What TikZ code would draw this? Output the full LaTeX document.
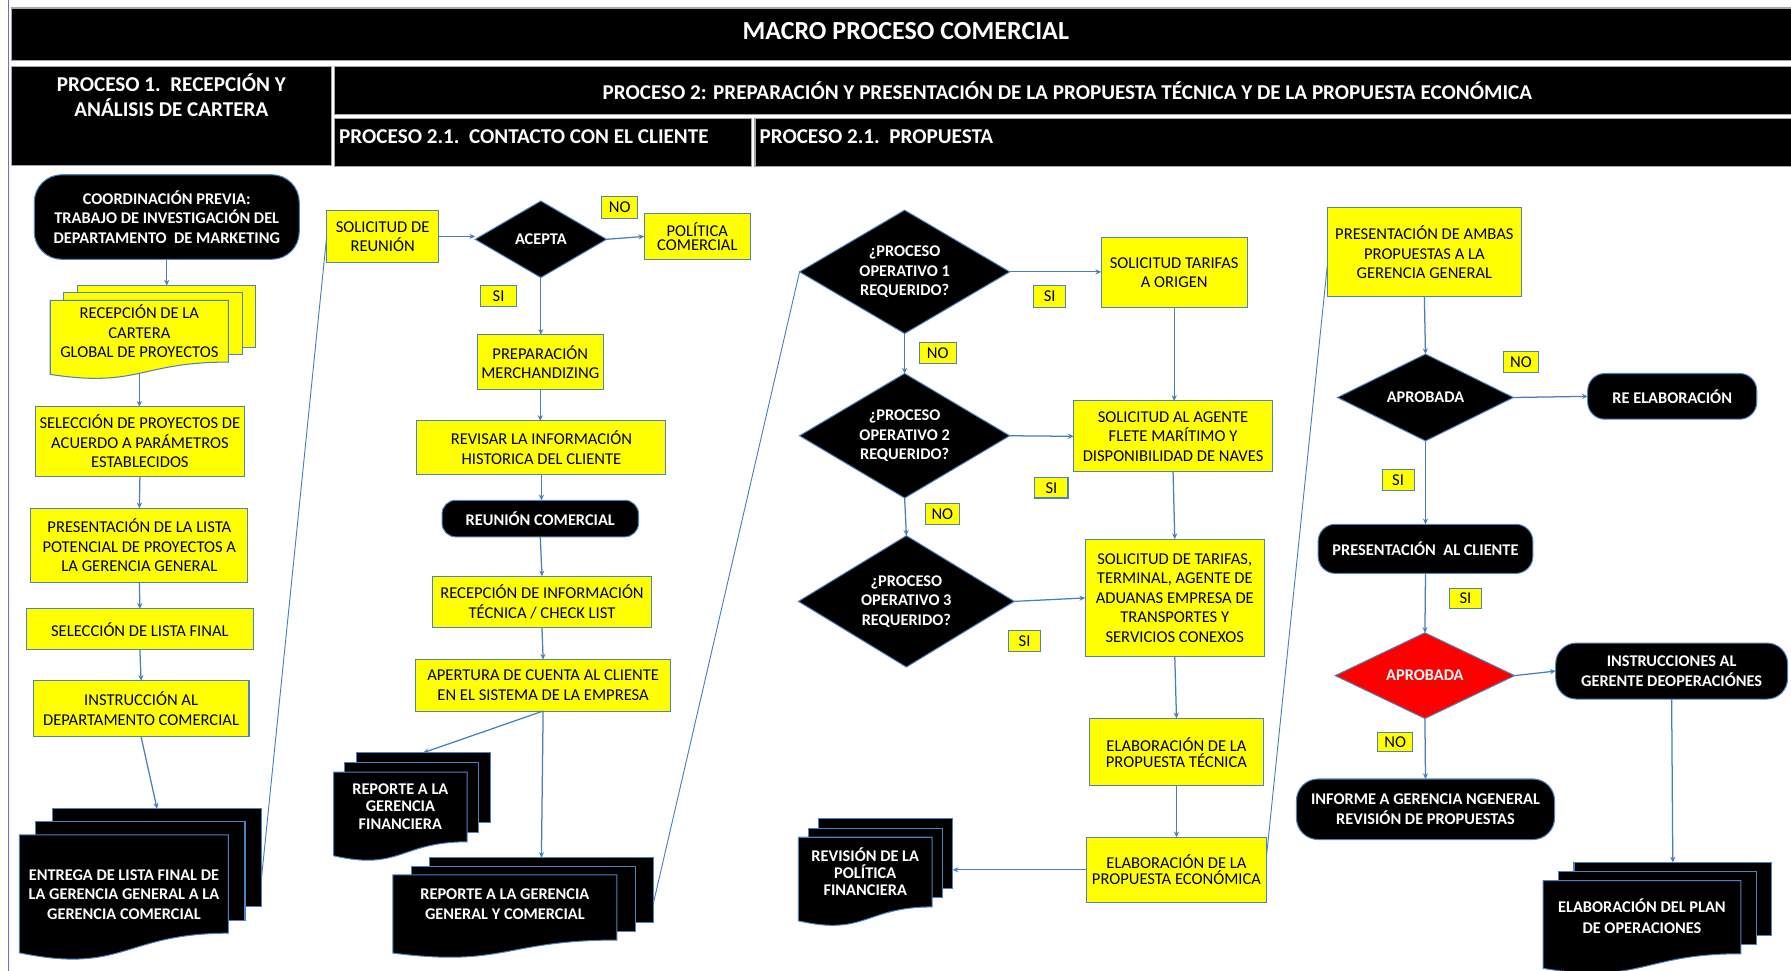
\documentclass[tikz,border=0pt]{standalone}
\usepackage{fontspec}
\setmainfont{Carlito}
\usetikzlibrary{shapes.geometric,arrows.meta,calc}

\definecolor{bordblue}{HTML}{4F81BD}
\definecolor{lineblue}{HTML}{4A7EBB}
\definecolor{ylw}{HTML}{FFFF00}
\definecolor{hdrgray}{HTML}{A6A6A6}
\definecolor{pageblue}{HTML}{6A6AEE}
\definecolor{alarm}{HTML}{FF0000}

% text sizes
\newcommand{\fs}{\fontsize{14.5}{17}\selectfont}
\newcommand{\fst}{\fontsize{14.5}{14}\selectfont}
\newcommand{\fstt}{\fontsize{14.5}{12}\selectfont}
\newcommand{\fsb}{\bfseries\fontsize{14.3}{17}\selectfont}
\newcommand{\fsbd}{\bfseries\fontsize{14.3}{15.5}\selectfont}
\newcommand{\fshd}{\bfseries\fontsize{18.5}{22}\selectfont}
\newcommand{\fstitle}{\bfseries\fontsize{22.8}{26}\selectfont}

% stacked documents: name, x, y (front top-left), width, height, dx, dy, style
\newcommand{\multidoc}[8]{%
  \path[#8] ({#2+2*#6},{#3-2*#7}) rectangle ({#2+2*#6+#4},{#3-2*#7+#5});
  \path[#8] ({#2+#6},{#3-#7}) rectangle ({#2+#6+#4},{#3-#7+#5});
  \path[#8] (#2,#3) -- ({#2+#4},#3) -- ({#2+#4},{#3+#5})
     .. controls ({#2+0.5*#4},{#3+#5}) and ({#2+0.5*#4},{#3+1.42*#5}) .. ({#2},{#3+1.2*#5}) -- cycle;
  \coordinate (#1-in) at ({#2+2*#6+0.5*#4},{#3-2*#7});
  \coordinate (#1-out) at ({#2+0.5*#4},{#3+1.18*#5});
  \coordinate (#1-e) at ({#2+2*#6+#4},{#3-2*#7+0.7*#5});
}

\tikzset{
  every node/.style={inner sep=0pt, outer sep=0pt},
  hdr/.style={draw=hdrgray, fill=black, text=white, line width=1.2pt, font=\fshd, align=center},
  hdrtext/.style={text=white, font=\fshd, align=center},
  ybox/.style={draw=bordblue, fill=ylw, line width=0.9pt, align=center, font=\fs},
  bbox/.style={draw=bordblue, fill=black, text=white, line width=0.9pt, align=center, font=\fsb, rounded corners=#1},
  bbox/.default=15pt,
  dia/.style={diamond, draw=bordblue, fill=black, text=white, line width=0.9pt, align=center, font=\fsb},
  lbl/.style={draw=bordblue, fill=ylw, line width=0.9pt, font=\fs},
  ydoc/.style={draw=bordblue, fill=ylw, line width=0.9pt},
  bdoc/.style={draw=bordblue, fill=black, line width=0.9pt},
  ydoctext/.style={align=center, font=\fs},
  bdoctext/.style={align=center, text=white, font=\fsbd},
  conn/.style={draw=lineblue, line width=1.1pt, -{Stealth[length=5pt,width=4.5pt]}},
  link/.style={draw=lineblue, line width=0.8pt},
}

\begin{document}
\begin{tikzpicture}[x=1pt,y=-1pt]
\useasboundingbox (0,0) rectangle (1568,850);
\fill[white] (0,0) rectangle (1568,850);
\draw[pageblue, line width=0.8pt] (7,0) -- (7,850);

% ---------------- headers ----------------
\node[hdr, minimum width=1566pt, minimum height=46pt] (title) at (793,30) {};
\node[hdrtext, font=\fstitle] (titlet) at (793,27) {MACRO PROCESO COMERCIAL};
\node[hdr, minimum width=280pt, minimum height=87pt] (p1) at (150,101.5) {};
\node[hdrtext] (p1t) at (150,83) {PROCESO 1.\ \ RECEPCIÓN Y\\ ANÁLISIS DE CARTERA};
\node[hdr, minimum width=1283pt, minimum height=42pt] (p2) at (934.5,79) {PROCESO 2: PREPARACIÓN Y PRESENTACIÓN DE LA PROPUESTA TÉCNICA Y DE LA PROPUESTA ECONÓMICA};
\node[hdr, minimum width=365pt, minimum height=42pt] (p21a) at (475.5,125) {};
\node[hdrtext, anchor=west] (p21at) at (297,120) {PROCESO 2.1.\ \ CONTACTO CON EL CLIENTE};
\node[hdr, minimum width=915pt, minimum height=42pt] (p21b) at (1118.5,125) {};
\node[hdrtext, anchor=west] (p21bt) at (665,120) {PROCESO 2.1.\ \ PROPUESTA};

% ---------------- process 1 ----------------
\node[bbox=24pt, minimum width=232pt, minimum height=74pt] (coord) at (146,190)
  {COORDINACIÓN PREVIA:\\ TRABAJO DE INVESTIGACIÓN DEL\\ DEPARTAMENTO\ \ DE MARKETING};
\multidoc{cartera}{44}{263}{156}{54}{12}{6.5}{ydoc}
\node[ydoctext] (cartera) at (122,290) {RECEPCIÓN DE LA\\ CARTERA\\ GLOBAL DE PROYECTOS};
\node[ybox, minimum width=183pt, minimum height=61pt] (sel) at (122.5,386.5)
  {SELECCIÓN DE PROYECTOS DE\\ ACUERDO A PARÁMETROS\\ ESTABLECIDOS};
\node[ybox, minimum width=190pt, minimum height=65pt] (pres) at (122,477.5)
  {PRESENTACIÓN\ DE LA LISTA\\ POTENCIAL DE PROYECTOS A\\ LA GERENCIA GENERAL};
\node[ybox, minimum width=199pt, minimum height=36pt] (fin) at (122.5,551) {SELECCIÓN DE LISTA FINAL};
\node[ybox, minimum width=189pt, minimum height=49pt] (inst) at (123.5,620.5)
  {INSTRUCCIÓN AL\\ DEPARTAMENTO\ COMERCIAL};
\multidoc{entrega}{17}{731}{183}{86}{14.5}{11.5}{bdoc}
\node[bdoctext, font=\fsb] (entrega) at (108.5,783)
  {ENTREGA DE LISTA FINAL DE\\ LA GERENCIA GENERAL A LA\\ GERENCIA COMERCIAL};

\draw[conn] (coord.south) -- (cartera-in);
\draw[conn] (cartera-out) -- (cartera-out |- sel.north);
\draw[conn] (sel.south) -- (pres.north);
\draw[conn] (pres.south) -- (fin.north);
\draw[conn] (fin.south) -- (inst.north);
\draw[conn] (inst.south) -- (entrega-in);

% ---------------- process 2.1: client contact ----------------
\node[ybox, minimum width=98pt, minimum height=46pt] (sol) at (335,207) {SOLICITUD DE\\ REUNIÓN};
\node[dia, aspect=1.72, minimum width=115pt, minimum height=67pt] (acepta) at (473.5,209.5) {ACEPTA};
\node[lbl, minimum width=31pt, minimum height=19pt] (no1) at (542.5,181.5) {NO};
\node[ybox, font=\fstt, minimum width=93pt, minimum height=41pt] (pol) at (610.5,207) {POLÍTICA\\ COMERCIAL};
\node[lbl, minimum width=31pt, minimum height=18pt] (si1) at (436.5,259) {SI};
\node[ybox, minimum width=110pt, minimum height=48pt] (prep) at (473,317) {PREPARACIÓN\\ MERCHANDIZING};
\node[ybox, minimum width=218pt, minimum height=47pt] (rev) at (474,392)
  {REVISAR\ LA INFORMACIÓN\\ HISTORICA\ DEL CLIENTE};
\node[bbox=12pt, minimum width=172pt, minimum height=32pt] (reu) at (473,454) {REUNIÓN COMERCIAL};
\node[ybox, minimum width=191pt, minimum height=45pt] (rec) at (474.5,527)
  {RECEPCIÓN DE INFORMACIÓN\\ TÉCNICA / CHECK LIST};
\node[ybox, minimum width=223pt, minimum height=45pt] (ape) at (475.5,600)
  {APERTURA DE CUENTA AL CLIENTE\\ EN EL SISTEMA DE LA EMPRESA};
\multidoc{repfin}{292}{676}{117}{61}{10}{8.5}{bdoc}
\node[bdoctext] (repfin) at (350.5,706) {REPORTE A LA\\ GERENCIA\\ FINANCIERA};
\multidoc{repgen}{344}{766}{196}{57}{16}{7.5}{bdoc}
\node[bdoctext, font=\fsb] (repgen) at (442,791.5) {REPORTE A LA GERENCIA\\ GENERAL Y COMERCIAL};

\draw[link] (entrega-e) -- (sol.west);
\draw[conn] (sol.east) -- (sol.east -| acepta.west);
\draw[conn] (acepta.east) -- (pol.west);
\draw[conn] (acepta.south) -- (acepta.south |- prep.north);
\draw[conn] (prep.south) -- (prep.south |- rev.north);
\draw[conn] (rev.south) -- (rev.south |- reu.north);
\draw[conn] (reu.south) -- (rec.north);
\draw[conn] (rec.south) -- (ape.north);
\draw[conn] (ape.south) -- (repfin-in);
\draw[conn] (ape.south) -- (repgen-in);

% ---------------- process 2.1: proposal ----------------
\node[dia, aspect=1.7, minimum width=184pt, minimum height=108pt] (d1) at (792,238)
  {¿PROCESO\\ OPERATIVO 1\\ REQUERIDO?};
\node[dia, aspect=1.69, minimum width=184pt, minimum height=109pt] (d2) at (792,381.5)
  {¿PROCESO\\ OPERATIVO 2\\ REQUERIDO?};
\node[dia, aspect=1.64, minimum width=189pt, minimum height=115pt] (d3) at (793.5,526.5)
  {¿PROCESO\\ OPERATIVO 3\\ REQUERIDO?};
\node[ybox, minimum width=128pt, minimum height=61pt] (tor) at (1028,238.5) {SOLICITUD TARIFAS\\ A ORIGEN};
\node[ybox, minimum width=174pt, minimum height=62pt] (age) at (1027,382)
  {SOLICITUD AL AGENTE\\ FLETE MARÍTIMO Y\\ DISPONIBILIDAD DE NAVES};
\node[ybox, minimum width=157pt, minimum height=103pt] (ter) at (1028.5,523.5)
  {SOLICITUD DE TARIFAS,\\ TERMINAL, AGENTE DE\\ ADUANAS EMPRESA DE\\ TRANSPORTES Y\\ SERVICIOS CONEXOS};
\node[ybox, font=\fst, minimum width=152pt, minimum height=59pt] (tec) at (1030,658.5)
  {ELABORACIÓN DE LA\\ PROPUESTA TÉCNICA};
\node[ybox, font=\fst, minimum width=158pt, minimum height=57pt] (eco) at (1030,761.5)
  {ELABORACIÓN DE LA\\ PROPUESTA ECONÓMICA};
\node[lbl, minimum width=28pt, minimum height=19pt] (si2) at (919,259.5) {SI};
\node[lbl, minimum width=32pt, minimum height=18pt] (no2) at (821,309) {NO};
\node[lbl, minimum width=29pt, minimum height=18pt] (si3) at (920.5,427) {SI};
\node[lbl, minimum width=30pt, minimum height=18pt] (no3) at (825,450) {NO};
\node[lbl, minimum width=28pt, minimum height=18pt] (si4) at (897,561) {SI};
\multidoc{revpol}{699}{733}{117}{61}{9}{8}{bdoc}
\node[bdoctext, font=\bfseries\fontsize{14.3}{15}\selectfont] (revpol) at (757.5,763)
  {REVISIÓN DE LA\\ POLÍTICA\\ FINANCIERA};

\draw[link] (repgen-e) -- (d1.west);
\draw[conn] (d1.east) -- (d1.east -| tor.west);
\draw[conn] (d1.south) -- (d2.north);
\draw[conn] (d2.east) -- (age.west);
\draw[conn] (d2.south) -- (d3.north);
\draw[conn] (d3.east) -- (ter.west);
\draw[conn] (tor.south) -- (tor.south |- age.north);
\draw[conn] (age.south) -- (ter.north);
\draw[conn] (ter.south) -- (tec.north);
\draw[conn] (tec.south) -- (eco.north);
\draw[conn] (eco.west) -- (eco.west -| revpol-e);

% ---------------- presentation and approval ----------------
\node[ybox, minimum width=170pt, minimum height=78pt] (amb) at (1247,221)
  {PRESENTACIÓN\ DE AMBAS\\ PROPUESTAS A LA\\ GERENCIA GENERAL};
\node[dia, aspect=2.03, minimum width=154pt, minimum height=76pt] (apr) at (1248,348) {APROBADA};
\node[lbl, minimum width=31pt, minimum height=18pt] (no4) at (1331.5,317) {NO};
\node[bbox=15pt, minimum width=148pt, minimum height=40pt] (reel) at (1464,347) {RE ELABORACIÓN};
\node[lbl, minimum width=28pt, minimum height=18pt] (si5) at (1224,420) {SI};
\node[bbox=15pt, minimum width=188pt, minimum height=43pt] (cli) at (1248,480.5) {PRESENTACIÓN\ \ AL CLIENTE};
\node[lbl, minimum width=28pt, minimum height=18pt] (si6) at (1283,524) {SI};
\node[dia, fill=alarm, aspect=2.09, minimum width=157pt, minimum height=75pt] (red) at (1247.5,591.5) {APROBADA};
\node[bbox=18pt, minimum width=203pt, minimum height=49pt] (ins) at (1463.5,587.5)
  {INSTRUCCIONES AL\\ GERENTE\ DEOPERACIÓNES};
\node[lbl, minimum width=31pt, minimum height=17pt] (no5) at (1221.5,649.5) {NO};
\node[bbox=19pt, minimum width=226pt, minimum height=53pt] (infm) at (1248,708.5)
  {INFORME A GERENCIA NGENERAL\\ REVISIÓN DE PROPUESTAS};
\multidoc{plan}{1351}{771}{173}{64}{13.5}{8}{bdoc}
\node[bdoctext, font=\bfseries\fontsize{14.3}{18}\selectfont] (plan) at (1437.5,802)
  {ELABORACIÓN DEL PLAN\\ DE OPERACIONES};

\draw[link] (eco.10) -- (amb.188);
\draw[conn] (amb.south) -- (apr.north);
\draw[conn] (apr.east) -- (reel.west);
\draw[conn] (apr.south) -- (cli.north);
\draw[conn] (cli.south) -- (red.north);
\draw[conn] (red.east) -- (ins.west);
\draw[conn] (red.south) -- (infm.north);
\draw[conn] (ins.south) -- (plan-in);
\end{tikzpicture}
\end{document}
